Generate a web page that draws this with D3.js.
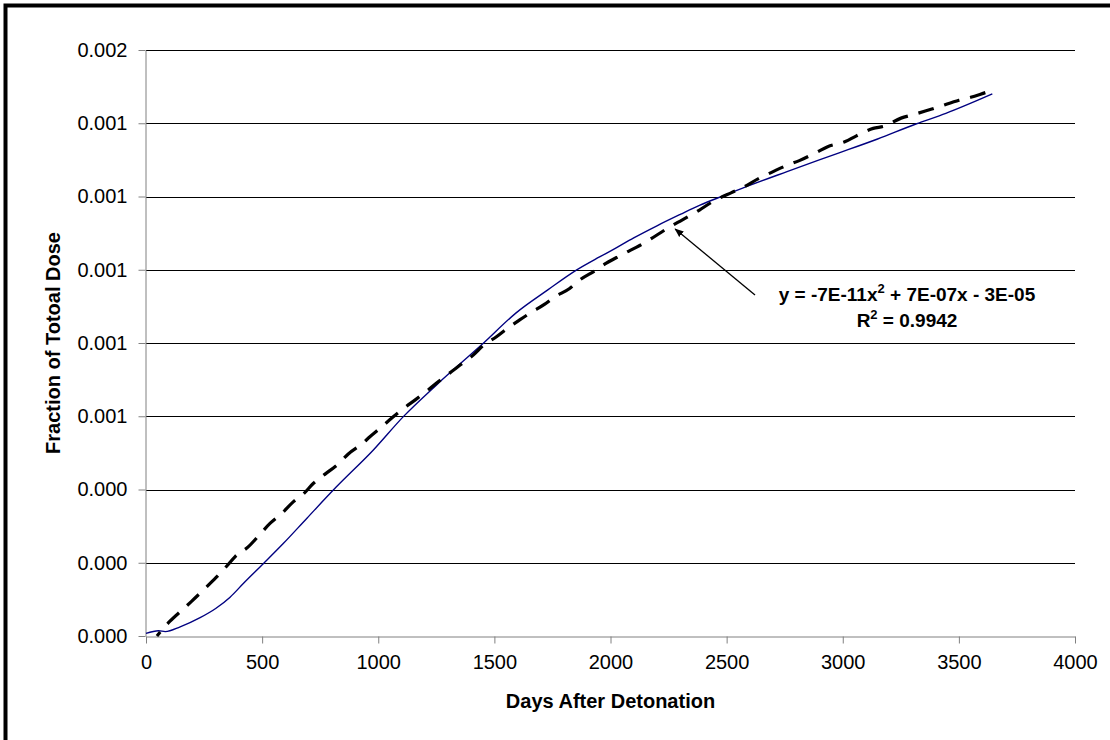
<!DOCTYPE html>
<html>
<head>
<meta charset="utf-8">
<script src="https://cdn.jsdelivr.net/npm/d3@7"></script>
<style>
  html, body { margin: 0; padding: 0; background: #fff; }
  #chart { width: 1110px; height: 740px; }
  text { font-family: "Liberation Sans", Arial, sans-serif; }
</style>
</head>
<body>
<div id="chart"></div>
<script>
// Blue (solid) series - days and fraction of dose
const blueDays = [0, 54, 83, 147, 233, 300, 362, 420, 506, 592, 692, 821, 979, 1108, 1250, 1445, 1595, 1730, 1853, 1953, 2011, 2100, 2200, 2300, 2383, 2498, 2569, 2760, 2957, 3150, 3315, 3444, 3644];
const blueVals = [0.000007, 0.0000145, 0.000012, 0.000025, 0.00005, 0.000075, 0.000106, 0.000144, 0.000198, 0.000253, 0.000321, 0.000408, 0.000508, 0.000599, 0.000685, 0.000795, 0.000883, 0.000945, 0.000999, 0.001035, 0.001055, 0.001087, 0.00112, 0.001151, 0.001176, 0.001205, 0.001223, 0.001268, 0.001313, 0.001357, 0.001398, 0.001427, 0.00148];

// Dashed series
const dashDays = [47, 101, 159, 195, 251, 302, 348, 384, 441, 488, 535, 585, 635, 678, 721, 771, 828, 871, 929, 964, 1015, 1062, 1119, 1158, 1215, 1258, 1316, 1351, 1409, 1452, 1509, 1552, 1609, 1652, 1717, 1760, 1824, 1867, 1932, 1982, 2046, 2150, 2250, 2383, 2440, 2519, 2562, 2641, 2684, 2763, 2813, 2885, 2935, 3011, 3057, 3131, 3179, 3251, 3301, 3380, 3423, 3501, 3551, 3627, 3650];
const dashVals = [0, 0.000039, 0.000073, 0.000094, 0.000128, 0.00016, 0.000191, 0.000217, 0.000244, 0.000276, 0.000308, 0.000335, 0.000367, 0.000388, 0.000417, 0.000442, 0.00047, 0.000497, 0.000524, 0.000544, 0.000571, 0.000597, 0.000626, 0.000644, 0.000672, 0.000694, 0.000722, 0.000739, 0.000767, 0.000793, 0.000817, 0.000838, 0.000863, 0.000881, 0.000906, 0.000926, 0.000949, 0.000972, 0.000997, 0.001018, 0.00104, 0.001075, 0.001115, 0.001163, 0.001186, 0.00121, 0.001222, 0.00125, 0.001263, 0.001286, 0.001298, 0.00132, 0.001336, 0.00135, 0.001365, 0.001386, 0.001392, 0.001414, 0.001423, 0.001438, 0.001447, 0.001463, 0.001471, 0.001486, 0.00149];

const xTicks = [0, 500, 1000, 1500, 2000, 2500, 3000, 3500, 4000];
const yTicks = [0, 0.0002, 0.0004, 0.0006, 0.0008, 0.001, 0.0012, 0.0014, 0.0016];

const eqParts = ["y = -7E-11x", "2", " + 7E-07x - 3E-05"];
const r2Parts = ["R", "2", " = 0.9942"];
const arrowDay = 2270;

const config = {
  width: 1110,
  height: 740,
  margin: { top: 50, right: 35, bottom: 104, left: 146 },
};
const { width, height, margin } = config;

const svg = d3.select("#chart")
  .append("svg")
  .attr("width", width)
  .attr("height", height);

// outer frame (only top and left edges visible)
svg.append("rect")
  .attr("x", 5.5).attr("y", 5.5)
  .attr("width", 1300).attr("height", 900)
  .attr("fill", "none")
  .attr("stroke", "#000")
  .attr("stroke-width", 4);

const xScale = d3.scaleLinear()
  .domain([0, 4000])
  .range([margin.left, width - margin.right]);

const yScale = d3.scaleLinear()
  .domain([0, 0.0016])
  .range([height - margin.bottom, margin.top]);

// gridlines
svg.selectAll(".grid")
  .data(yTicks.slice(1))
  .join("line")
  .attr("class", "grid")
  .attr("x1", margin.left)
  .attr("x2", width - margin.right)
  .attr("y1", d => Math.round(yScale(d)) + 0.5)
  .attr("y2", d => Math.round(yScale(d)) + 0.5)
  .attr("stroke", "#000")
  .attr("stroke-width", 1);

// axes
svg.append("g")
  .attr("transform", `translate(0, ${Math.round(yScale(0)) + 0.5})`)
  .call(d3.axisBottom(xScale).tickValues(xTicks).tickSize(7).tickSizeOuter(0).tickPadding(11).tickFormat(d3.format("d")));

svg.append("g")
  .attr("transform", `translate(${margin.left - 0.5}, 0)`)
  .call(d3.axisLeft(yScale).tickValues(yTicks).tickSize(7).tickSizeOuter(0).tickPadding(11).tickFormat(d3.format(".3f")));

svg.selectAll(".domain, .tick line").attr("stroke", "#808080").attr("stroke-width", 1);
svg.selectAll(".tick text")
  .style("font-family", "'Liberation Sans', Arial, sans-serif")
  .style("font-size", "20px")
  .attr("fill", "#000");

// axis titles
svg.append("text")
  .attr("x", (xScale(0) + xScale(4000)) / 2)
  .attr("y", 708)
  .attr("text-anchor", "middle")
  .style("font-size", "20px")
  .style("font-weight", "bold")
  .text("Days After Detonation");

svg.append("text")
  .attr("transform", `translate(60, ${(yScale(0) + yScale(0.0016)) / 2}) rotate(-90)`)
  .attr("text-anchor", "middle")
  .style("font-size", "20px")
  .style("font-weight", "bold")
  .text("Fraction of Totoal Dose");

// series
const blueData = blueDays.map((d, i) => ({ x: d, y: blueVals[i] }));
const dashData = dashDays.map((d, i) => ({ x: d, y: dashVals[i] }));

const line = d3.line()
  .x(d => xScale(d.x))
  .y(d => yScale(d.y))
  .curve(d3.curveMonotoneX);

svg.append("path")
  .datum(blueData)
  .attr("d", line)
  .attr("fill", "none")
  .attr("stroke", "#000080")
  .attr("stroke-width", 1.4);

svg.append("path")
  .datum(dashData)
  .attr("d", line)
  .attr("fill", "none")
  .attr("stroke", "#000")
  .attr("stroke-width", 3.2)
  .attr("stroke-dasharray", "16,11")
  .attr("stroke-dashoffset", 11);

// arrow from label to trendline
svg.append("defs").append("marker")
  .attr("id", "arrowhead")
  .attr("viewBox", "0 0 10 10")
  .attr("refX", 9).attr("refY", 5)
  .attr("markerWidth", 7).attr("markerHeight", 7)
  .attr("orient", "auto")
  .append("path")
  .attr("d", "M0,1 L10,5 L0,9 z")
  .attr("fill", "#000");

const tipY = yScale(d3.interpolateNumber(0.001115, 0.001163)((arrowDay - 2250) / 133)) + 4;
svg.append("line")
  .attr("x1", 755).attr("y1", 295)
  .attr("x2", xScale(arrowDay) + 2).attr("y2", tipY)
  .attr("stroke", "#000")
  .attr("stroke-width", 1.3)
  .attr("marker-end", "url(#arrowhead)");

// trendline equation label
function addSupText(y, parts) {
  const t = svg.append("text")
    .attr("x", 907).attr("y", y)
    .attr("text-anchor", "middle")
    .style("font-size", "19px")
    .style("font-weight", "bold");
  t.append("tspan").text(parts[0]);
  t.append("tspan").attr("dy", -8).style("font-size", "13px").text(parts[1]);
  t.append("tspan").attr("dy", 8).text(parts[2]);
}
addSupText(301, eqParts);
addSupText(327, r2Parts);
</script>
</body>
</html>
